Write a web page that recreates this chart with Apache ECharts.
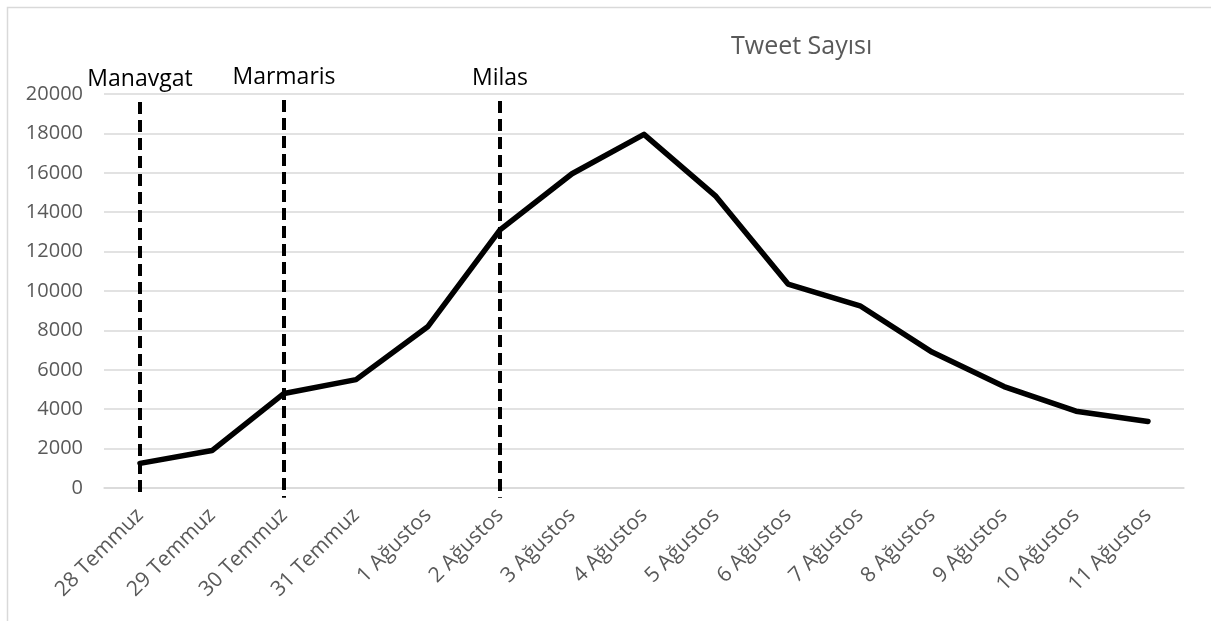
<!DOCTYPE html>
<html>
<head>
<meta charset="utf-8">
<script src="https://cdn.jsdelivr.net/npm/echarts@6/dist/echarts.min.js"></script>
<style>
html,body{margin:0;padding:0;background:#fff;}
#chart{width:1211px;height:621px;}
</style>
</head>
<body>
<div id="chart"></div>
<script>
// ---- data ----
var categories = ['28 Temmuz','29 Temmuz','30 Temmuz','31 Temmuz','1 Ağustos','2 Ağustos','3 Ağustos','4 Ağustos','5 Ağustos','6 Ağustos','7 Ağustos','8 Ağustos','9 Ağustos','10 Ağustos','11 Ağustos'];
var tweetCounts = [1250, 1900, 4800, 5500, 8200, 13100, 15950, 17950, 14800, 10350, 9250, 6900, 5150, 3900, 3380];
var seriesName = 'Tweet Sayısı';
var markerNames = ['Manavgat', 'Marmaris', 'Milas'];
var markerCategories = ['28 Temmuz', '30 Temmuz', '2 Ağustos'];
var markerTopValues = [19600, 19700, 19650];
var markerBottomValues = [-500, -500, -500];
var yTicks = {min: 0, max: 20000, interval: 2000};

var FONT = '"Open Sans", "Noto Sans", sans-serif';
var chart = echarts.init(document.getElementById('chart'), null, {renderer: 'canvas'});

var markerSeries = markerNames.map(function (nm, i) {
  return {
    name: nm,
    type: 'line',
    clip: false,
    symbol: 'circle',
    symbolSize: 1,
    showSymbol: true,
    silent: true,
    z: 3,
    itemStyle: {color: 'rgba(0,0,0,0)'},
    lineStyle: {color: '#000', width: 4, type: [12, 6]},
    data: [
      {value: [markerCategories[i], markerTopValues[i]],
       label: {show: true, position: 'top', distance: 10, formatter: nm,
               color: '#000', fontSize: 23, fontFamily: FONT}},
      {value: [markerCategories[i], markerBottomValues[i]], label: {show: false}}
    ]
  };
});

var option = {
  animation: false,
  backgroundColor: '#fff',
  textStyle: {fontFamily: FONT},
  title: {
    text: seriesName,
    left: 726, top: 29,
    textStyle: {color: '#595959', fontSize: 25, fontWeight: 'normal', fontFamily: FONT}
  },
  graphic: [{
    type: 'rect', left: 5, top: 5, silent: true,
    shape: {width: 1220, height: 630},
    style: {fill: 'none', stroke: '#d9d9d9', lineWidth: 1.5}
  }],
  grid: {left: 104, right: 27, top: 94, bottom: 133, containLabel: false},
  xAxis: {
    type: 'category',
    data: categories,
    boundaryGap: true,
    axisLine: {show: true, lineStyle: {color: '#d9d9d9', width: 1.5}},
    axisTick: {show: false},
    axisLabel: {rotate: 45, interval: 0, margin: 24, color: '#595959', fontSize: 21, fontFamily: FONT}
  },
  yAxis: {
    type: 'value',
    min: yTicks.min, max: yTicks.max, interval: yTicks.interval,
    axisLine: {show: false},
    axisTick: {show: false},
    splitLine: {lineStyle: {color: '#d9d9d9', width: 1.5}},
    axisLabel: {margin: 21, color: '#595959', fontSize: 20, fontFamily: FONT,
                formatter: function (v) { return String(v); }}
  },
  series: [{
    name: seriesName,
    type: 'line',
    data: tweetCounts,
    symbol: 'none',
    z: 4,
    lineStyle: {color: '#000', width: 5.5, cap: 'round', join: 'round'}
  }].concat(markerSeries)
};
chart.setOption(option);
</script>
</body>
</html>
